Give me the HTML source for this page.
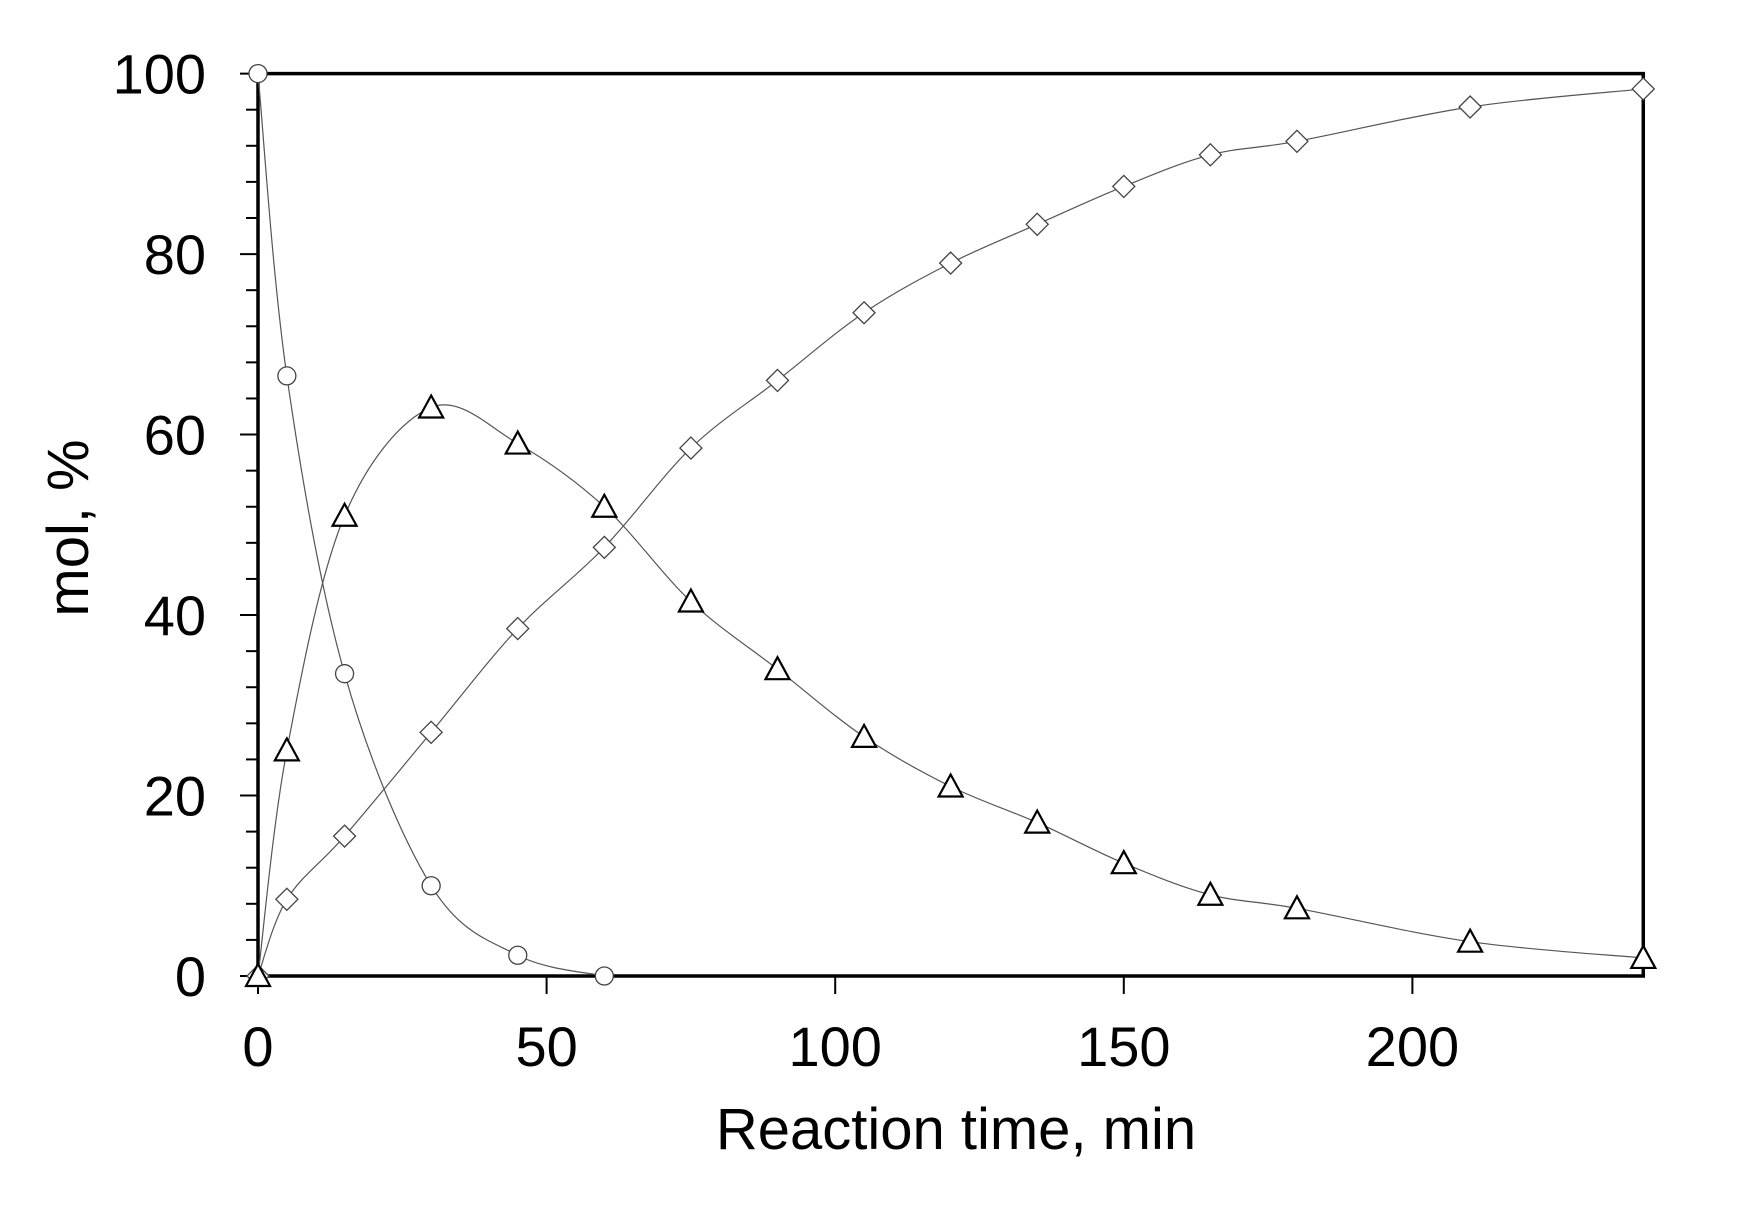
<!DOCTYPE html>
<html><head><meta charset="utf-8"><style>
html,body{margin:0;padding:0;background:#fff}
svg{display:block}
text{font-family:"Liberation Sans",Arial,sans-serif;fill:#000}
</style></head><body>
<svg id="s" width="1740" height="1217" viewBox="0 0 1740 1217" xmlns="http://www.w3.org/2000/svg">
<g id="g"></g>
</svg>
<script>
var X0=258,XS=5.772,Y0=976,YS=9.024;
function px(x){return X0+x*XS}function py(y){return Y0-y*YS}
var g=document.getElementById('g'),h='';
h+='<rect x="'+px(0)+'" y="'+py(100)+'" width="'+(px(240)-px(0))+'" height="'+(py(0)-py(100))+'" fill="none" stroke="#000" stroke-width="3.5"/>';
for(var v=0;v<=100;v+=4){var big=v%20==0;h+='<line x1="'+(big?240:246)+'" x2="'+X0+'" y1="'+py(v)+'" y2="'+py(v)+'" stroke="#000" stroke-width="2"/>';}
for(var v=0;v<=100;v+=20){h+='<text x="206" y="'+(py(v)+20)+'" font-size="56" text-anchor="end">'+v+'</text>';}
for(var v=0;v<=200;v+=50){h+='<line x1="'+px(v)+'" x2="'+px(v)+'" y1="'+Y0+'" y2="'+(Y0+18)+'" stroke="#000" stroke-width="2"/>';h+='<text x="'+px(v)+'" y="1066" font-size="56" text-anchor="middle">'+v+'</text>';}
h+='<text x="956" y="1149" font-size="58" text-anchor="middle">Reaction time, min</text>';
h+='<text transform="translate(88,528) rotate(-90)" font-size="58" text-anchor="middle">mol, %</text>';
var C=[[0,100],[5,66.5],[15,33.5],[30,10],[45,2.3],[60,0]];
var T=[[0,0],[5,25],[15,51],[30,63],[45,59],[60,52],[75,41.5],[90,34],[105,26.5],[120,21],[135,17],[150,12.5],[165,9],[180,7.5],[210,3.8],[240,2]];
var D=[[0,0],[5,8.5],[15,15.5],[30,27],[45,38.5],[60,47.5],[75,58.5],[90,66],[105,73.5],[120,79],[135,83.3],[150,87.5],[165,91],[180,92.5],[210,96.3],[240,98.3]];
function curve(P){var p=P.map(function(a){return[px(a[0]),py(a[1])]});var d='M'+p[0][0]+' '+p[0][1];
for(var i=0;i<p.length-1;i++){var a=p[Math.max(i-1,0)],b=p[i],c=p[i+1],e=p[Math.min(i+2,p.length-1)];
d+=' C'+(b[0]+(c[0]-a[0])/6)+' '+(b[1]+(c[1]-a[1])/6)+' '+(c[0]-(e[0]-b[0])/6)+' '+(c[1]-(e[1]-b[1])/6)+' '+c[0]+' '+c[1];}
return '<path d="'+d+'" fill="none" stroke="#555" stroke-width="1.2"/>';}
h+=curve(C)+curve(T)+curve(D);
C.forEach(function(a){h+='<circle cx="'+px(a[0])+'" cy="'+py(a[1])+'" r="9" fill="#fff" stroke="#444" stroke-width="1.3"/>';});
D.forEach(function(a){var x=px(a[0]),y=py(a[1]);h+='<path d="M'+x+' '+(y-11)+' L'+(x+11)+' '+y+' L'+x+' '+(y+11)+' L'+(x-11)+' '+y+'Z" fill="#fff" stroke="#444" stroke-width="1.3"/>';});
T.forEach(function(a){var x=px(a[0]),y=py(a[1]);h+='<path d="M'+x+' '+(y-12)+' L'+(x+12)+' '+(y+10)+' L'+(x-12)+' '+(y+10)+'Z" fill="#fff" stroke="#000" stroke-width="2.2"/>';});
g.innerHTML=h;
</script>
</body></html>
